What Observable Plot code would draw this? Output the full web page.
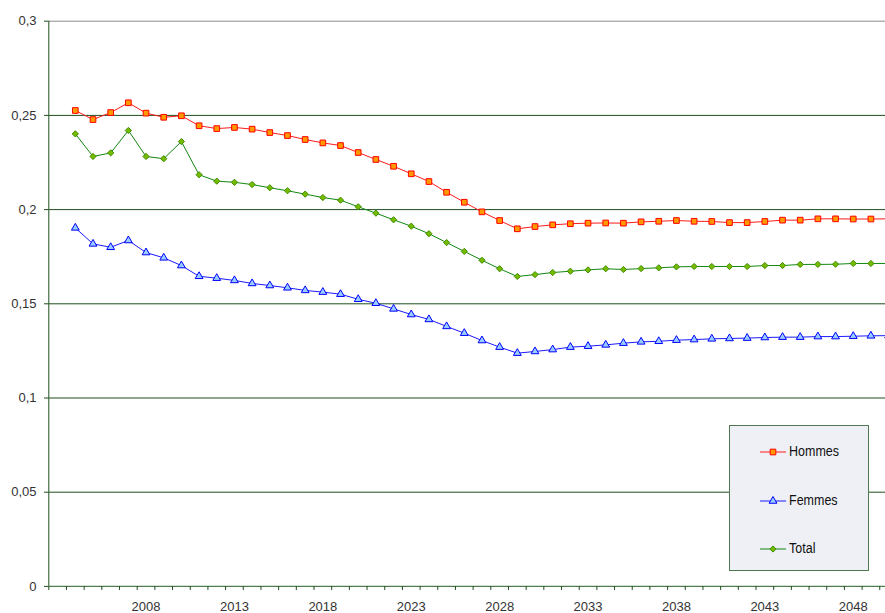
<!DOCTYPE html>
<html>
<head>
<meta charset="utf-8">
<script src="https://cdn.jsdelivr.net/npm/d3@7"></script>
<script src="https://cdn.jsdelivr.net/npm/@observablehq/plot@0.6"></script>
<style>
  html, body { margin: 0; padding: 0; background: #fff; overflow: hidden; }
  #wrap { position: relative; width: 885px; height: 613px; }
  #legend {
    position: absolute; left: 729px; top: 425px; width: 138px; height: 144px;
    background: #eef0f6; border: 1.5px solid #4f7a4f;
    font-family: "Liberation Sans", Arial, sans-serif; font-size: 12.5px; color: #111;
  }
  .entry { position: absolute; left: 30px; height: 14px; display: flex; align-items: center; }
  .entry span { margin-left: 3px; display: inline-block; transform: scaleY(1.1); }
</style>
</head>
<body>
<div id="wrap"><div id="legend"></div></div>
<script>
// ---- data ----
const categories = [2003,2004,2005,2006,2007,2008,2009,2010,2011,2012,2013,2014,2015,2016,2017,2018,2019,2020,2021,2022,2023,2024,2025,2026,2027,2028,2029,2030,2031,2032,2033,2034,2035,2036,2037,2038,2039,2040,2041,2042,2043,2044,2045,2046,2047,2048,2049,2050];
const years = [2004,2005,2006,2007,2008,2009,2010,2011,2012,2013,2014,2015,2016,2017,2018,2019,2020,2021,2022,2023,2024,2025,2026,2027,2028,2029,2030,2031,2032,2033,2034,2035,2036,2037,2038,2039,2040,2041,2042,2043,2044,2045,2046,2047,2048,2049,2050];
const hommes = [0.2526,0.2478,0.2515,0.2567,0.2512,0.2490,0.2498,0.2445,0.2430,0.2436,0.2427,0.2409,0.2393,0.2372,0.2354,0.2340,0.2303,0.2266,0.2230,0.2190,0.2149,0.2092,0.2039,0.1988,0.1942,0.1898,0.1910,0.1919,0.1925,0.1928,0.1929,0.1928,0.1935,0.1938,0.1942,0.1938,0.1937,0.1931,0.1931,0.1937,0.1944,0.1944,0.1951,0.1951,0.1950,0.1950,0.1951];
const femmes = [0.1903,0.1818,0.1800,0.1836,0.1772,0.1744,0.1703,0.1646,0.1636,0.1624,0.1608,0.1597,0.1585,0.1571,0.1562,0.1551,0.1524,0.1503,0.1473,0.1443,0.1417,0.1380,0.1344,0.1305,0.1270,0.1238,0.1247,0.1257,0.1270,0.1275,0.1282,0.1291,0.1298,0.1301,0.1307,0.1310,0.1314,0.1316,0.1318,0.1321,0.1323,0.1323,0.1326,0.1326,0.1328,0.1330,0.1331];
const total = [0.2402,0.2282,0.2301,0.2420,0.2282,0.2270,0.2361,0.2185,0.2151,0.2145,0.2133,0.2116,0.2100,0.2082,0.2064,0.2050,0.2015,0.1981,0.1946,0.1912,0.1872,0.1825,0.1778,0.1731,0.1686,0.1645,0.1655,0.1666,0.1673,0.1680,0.1686,0.1682,0.1687,0.1691,0.1696,0.1698,0.1698,0.1698,0.1698,0.1703,0.1703,0.1709,0.1709,0.1710,0.1714,0.1714,0.1714];
const yTicks = [0, 0.05, 0.1, 0.15, 0.2, 0.25, 0.3];
const xLabels = [2008, 2013, 2018, 2023, 2028, 2033, 2038, 2043, 2048];
const seriesNames = ["Hommes", "Femmes", "Total"];

// ---- styles ----
const styles = {
  Hommes: {line: "#ff1a1a", fill: "#ff9900", stroke: "#ff0000", symbol: "square", r: 3.2},
  Femmes: {line: "#1a1aff", fill: "#99ccff", stroke: "#0000ff", symbol: "triangle", r: 2.9},
  Total:  {line: "#118811", fill: "#77bb00", stroke: "#3c8c00", symbol: "diamond2", r: 2.8}
};
const green = "#1f4f1f";

const seriesValues = {Hommes: hommes, Femmes: femmes, Total: total};
const rows = seriesNames.flatMap(name => years.map((yr, i) => ({series: name, year: yr, value: seriesValues[name][i]})));

const first = categories[0] - 0.5, last = categories[categories.length - 1] + 0.5;
const bandW = 17.68;

const marks = [
  Plot.ruleY(yTicks.filter(d => d > 0 && d < 0.3), {x1: first, x2: last, stroke: green, strokeWidth: 1}),
  Plot.ruleY([0.3], {x1: first, x2: last, stroke: "#8c8c8c", strokeWidth: 1}),
  Plot.ruleY([0], {x1: first, x2: last, stroke: "#4f7f4f", strokeWidth: 1.4}),
  Plot.ruleX([first], {y1: 0, y2: 0.3, stroke: green, strokeWidth: 1}),
  Plot.axisY({ticks: yTicks, label: null, tickSize: 4, tickPadding: 8, stroke: green, color: "#333",
    tickFormat: d => String(d).replace(".", ","), ariaLabel: "ylab"}),
  Plot.axisX({ticks: categories.map(c => c - 0.5).concat([last]), label: null, tickSize: 4, stroke: green, tickFormat: () => ""}),
  Plot.axisX({ticks: xLabels, label: null, tickSize: 0, tickPadding: 15, color: "#333", tickFormat: d => String(d), ariaLabel: "xlab"})
];
for (const name of seriesNames) {
  const s = styles[name];
  const data = rows.filter(d => d.series === name);
  marks.push(Plot.line(data, {x: "year", y: "value", stroke: s.line, strokeWidth: 1}));
  marks.push(Plot.dot(data, {x: "year", y: "value", symbol: () => s.symbol, r: s.r, fill: s.fill, stroke: s.stroke, strokeWidth: 1}));
}

const chart = Plot.plot({
  width: 885,
  height: 613,
  marginLeft: 48,
  marginRight: 0,
  marginTop: 0,
  marginBottom: 27,
  style: {fontFamily: "'Liberation Sans', Arial, sans-serif", fontSize: "13px", overflow: "hidden", background: "#fff"},
  x: {type: "linear", domain: [first, last], range: [48.3, 48.3 + categories.length * bandW], axis: null},
  y: {domain: [0, 0.3], range: [585.9, 20.7], axis: null},
  symbol: {type: "identity"},
  marks
});
document.getElementById("wrap").prepend(chart);

// stretch axis labels vertically (the reference uses tall, condensed digits)
chart.querySelectorAll('g[aria-label="ylab"] text, g[aria-label="xlab"] text').forEach(t => {
  const tr = t.getAttribute("transform") || "";
  t.setAttribute("transform", tr + " scale(1,1.17)");
});

// ---- legend (HTML overlay) ----
const legend = document.getElementById("legend");
const symPath = {
  square: d3.symbol(d3.symbolSquare, Math.PI * 3.2 * 3.2)(),
  triangle: d3.symbol(d3.symbolTriangle, Math.PI * 2.9 * 2.9)(),
  diamond2: d3.symbol(d3.symbolDiamond2, Math.PI * 2.8 * 2.8)()
};
const rowTops = [19, 68, 116];
seriesNames.forEach((name, i) => {
  const s = styles[name];
  const e = document.createElement("div");
  e.className = "entry";
  e.style.top = rowTops[i] + "px";
  e.innerHTML = `<svg width="26" height="14" style="display:block"><line x1="0" x2="26" y1="7" y2="7" stroke="${s.line}" stroke-width="1"/><path transform="translate(13,7)" d="${symPath[s.symbol]}" fill="${s.fill}" stroke="${s.stroke}" stroke-width="1"/></svg><span>${name}</span>`;
  legend.appendChild(e);
});
</script>
</body>
</html>
